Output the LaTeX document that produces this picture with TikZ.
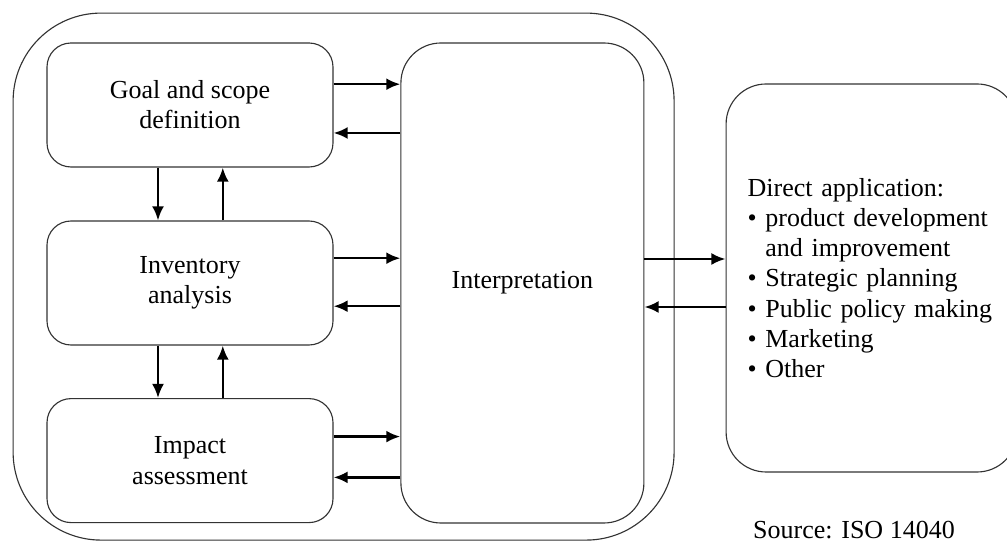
\documentclass[tikz,border=0pt]{standalone}
\usepackage{fontspec}
\setmainfont{Liberation Serif}
\usetikzlibrary{arrows.meta}

\begin{document}
\begin{tikzpicture}[font=\fontsize{18.5}{21.5}\selectfont]
      \tikzstyle{cadre}=[draw=black!80, line width=0.8pt, rounded corners=2.2cm]
      \tikzstyle{etape}=[draw=black!80, line width=0.8pt, rounded corners=0.6cm, minimum width=7.15cm, minimum height=3.1cm, align=center]
      \tikzstyle{bloc}=[draw=black!80, line width=0.8pt, rounded corners=1cm]
      \tikzstyle{fleche}=[-{Latex[length=10pt,width=8.5pt]}, line width=1.8pt]
      
      \useasboundingbox (0,0) rectangle (25.175,13.575);
      \node[cadre, minimum width=16.525cm, minimum height=13.175cm] (Cadre) at (8.59,6.66) {};
      \node[etape] (Goal) at (4.75,10.95) {Goal and scope\\definition};
      \node[etape] (Inv) at (4.75,6.5) {Inventory\\analysis};
      \node[etape] (Imp) at (4.75,2.06) {Impact\\assessment};
      \node[bloc, minimum width=6.075cm, minimum height=12cm] (Interp) at (13.06,6.5) {Interpretation};
      \node[bloc, minimum width=7.275cm, minimum height=9.7cm, text width=6.2cm, align=left] (Appl) at (21.79,6.625) {Direct application:\\
        \textbullet\ product development\\
        \phantom{\textbullet}\ and improvement\\
        \textbullet\ Strategic planning\\
        \textbullet\ Public policy making\\
        \textbullet\ Marketing\\
        \textbullet\ Other};
      \node (Src) at (21.35,0.33) {Source: ISO 14040};
      
      \draw[fleche] ([yshift=0.52cm]Goal.east) -- ([yshift=0.52cm]Goal.east -| Interp.west);
      \draw[fleche] ([yshift=-0.7cm]Goal.east -| Interp.west) -- ([yshift=-0.7cm]Goal.east);
      \draw[fleche] ([yshift=0.62cm]Inv.east) -- ([yshift=0.62cm]Inv.east -| Interp.west);
      \draw[fleche] ([yshift=-0.58cm]Inv.east -| Interp.west) -- ([yshift=-0.58cm]Inv.east);
      \draw[fleche] ([yshift=0.6cm]Imp.east) -- ([yshift=0.6cm]Imp.east -| Interp.west);
      \draw[fleche] ([yshift=-0.42cm]Imp.east -| Interp.west) -- ([yshift=-0.42cm]Imp.east);
      \draw[fleche] ([xshift=-0.8cm]Goal.south) -- ([xshift=-0.8cm]Inv.north);
      \draw[fleche] ([xshift=0.82cm]Inv.north) -- ([xshift=0.82cm]Goal.south);
      \draw[fleche] ([xshift=-0.8cm]Inv.south) -- ([xshift=-0.8cm]Imp.north);
      \draw[fleche] ([xshift=0.82cm]Imp.north) -- ([xshift=0.82cm]Inv.south);
      \draw[fleche] ([yshift=0.6cm]Interp.east) -- ([yshift=0.6cm]Interp.east -| Appl.west);
      \draw[fleche] ([yshift=-0.6cm]Interp.east -| Appl.west) -- ([yshift=-0.6cm]Interp.east);
      
    \end{tikzpicture}
\end{document}
